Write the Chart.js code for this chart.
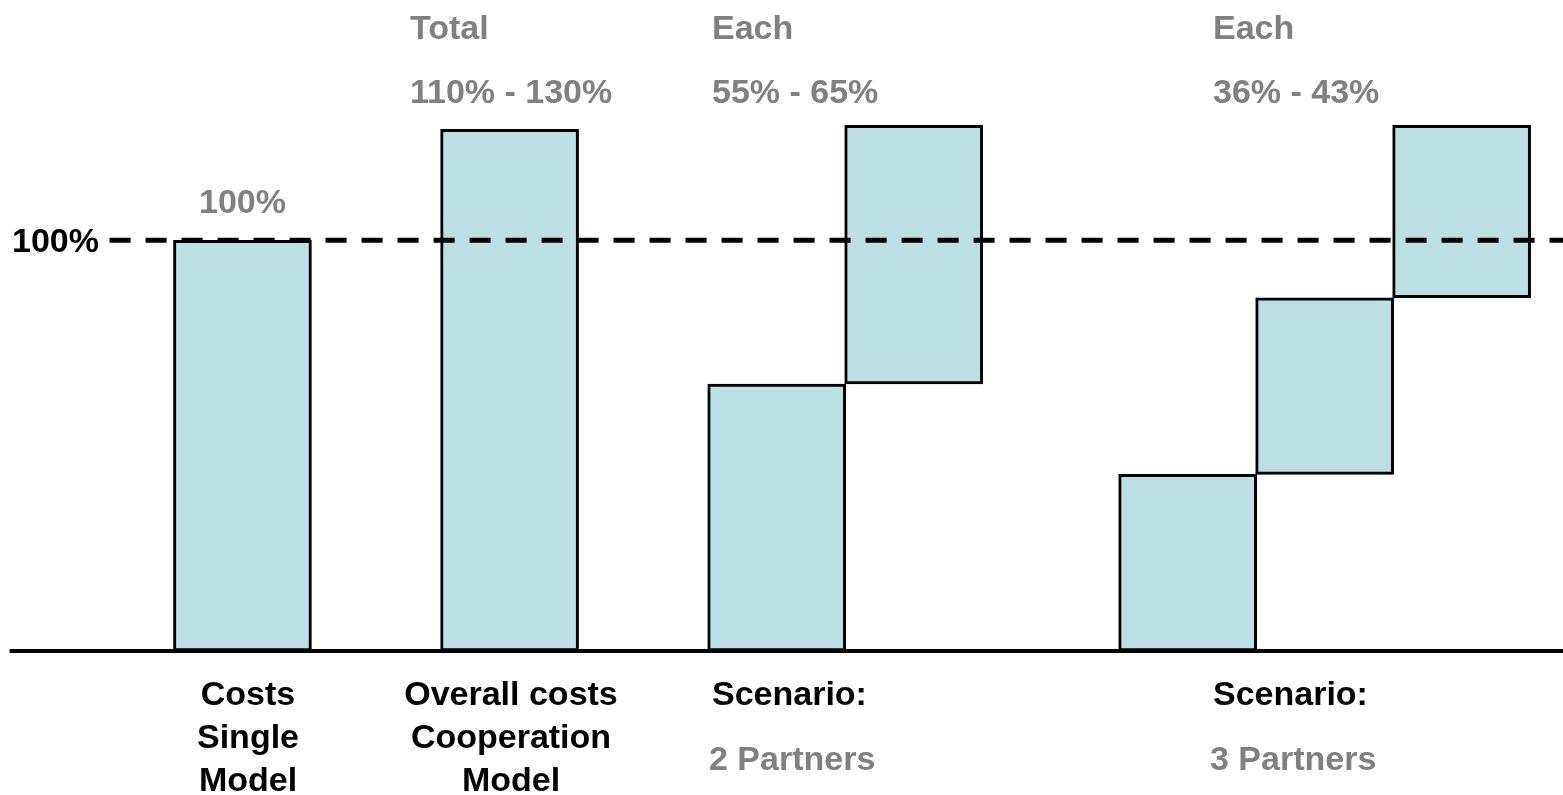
<!DOCTYPE html>
<html>
<head>
<meta charset="utf-8">
<title>Cost comparison</title>
<script src="https://cdn.jsdelivr.net/npm/chart.js@4"></script>
<style>
  body { margin: 0; background: #fff; }
  canvas { display: block; }
</style>
</head>
<body>
<canvas id="costChart" width="1563" height="795"></canvas>
<script>
// bar positions along the x axis (in bar widths) and their low/high levels in %
const barPos = [1, 2.95, 4.9, 5.9, 7.9, 8.9, 9.9];
const barLow = [0, 0, 0, 65, 0, 43, 86];
const barHigh = [100, 127, 65, 128, 43, 86, 128];

const refLevel = 100;
const refLabel = '100%';
const singleLabel = '100%';

const headers = ['Total', 'Each', 'Each'];
const ranges = ['110% - 130%', '55% - 65%', '36% - 43%'];

const modelLines = [
  ['Costs', 'Single', 'Model'],
  ['Overall costs', 'Cooperation', 'Model']
];
const scenarioTitle = 'Scenario:';
const scenarioNames = ['2 Partners', '3 Partners'];

const xMin = -0.77, xMax = 10.64;

const barData = [];
for (let i = 0; i < barPos.length; i++) {
  barData.push({ x: barPos[i], y: [barLow[i], barHigh[i]] });
}

const GRAY = '#808080';
const FONT = 'bold 34px "Liberation Sans", Arial, sans-serif';

const labelPlugin = {
  id: 'costLabels',
  afterDraw(chart) {
    const ctx = chart.ctx;
    const xs = chart.scales.x;
    const ys = chart.scales.y;
    const yRef = ys.getPixelForValue(refLevel);

    ctx.save();
    ctx.font = FONT;
    ctx.textBaseline = 'alphabetic';

    // level marker on the left
    ctx.fillStyle = '#000';
    ctx.textAlign = 'right';
    ctx.fillText(refLabel, 99, yRef + 12);

    // value above the single model bar
    ctx.fillStyle = GRAY;
    ctx.textAlign = 'center';
    ctx.fillText(singleLabel, xs.getPixelForValue(barPos[0]), yRef - 27);

    // headers and ranges at the top
    const headX = [410, 712, 1213];
    ctx.textAlign = 'left';
    for (let i = 0; i < headers.length; i++) {
      ctx.fillText(headers[i], headX[i], 39);
      ctx.fillText(ranges[i], headX[i], 103);
    }

    // category labels under the axis
    const lineY = [705, 748, 791];
    const modelX = [248, 511];
    ctx.fillStyle = '#000';
    ctx.textAlign = 'center';
    for (let g = 0; g < modelLines.length; g++) {
      for (let l = 0; l < modelLines[g].length; l++) {
        ctx.fillText(modelLines[g][l], modelX[g], lineY[l]);
      }
    }

    const scenX = [712, 1213];
    ctx.textAlign = 'left';
    for (let s = 0; s < scenarioNames.length; s++) {
      ctx.fillStyle = '#000';
      ctx.fillText(scenarioTitle, scenX[s], 705);
      ctx.fillStyle = GRAY;
      ctx.fillText(scenarioNames[s], scenX[s] - 3, 770);
    }
    ctx.restore();
  }
};

new Chart(document.getElementById('costChart'), {
  type: 'bar',
  data: {
    datasets: [
      {
        type: 'line',
        data: [{ x: 0.03, y: refLevel }, { x: xMax, y: refLevel }],
        borderColor: '#000',
        borderWidth: 5,
        borderDash: [21, 15],
        pointRadius: 0,
        clip: false
      },
      {
        type: 'line',
        data: [{ x: -0.7, y: 0 }, { x: xMax, y: 0 }],
        borderColor: '#000',
        borderWidth: 4,
        pointRadius: 0,
        clip: false
      },
      {
        data: barData,
        backgroundColor: '#BBE0E3',
        borderColor: '#000',
        borderWidth: 3,
        borderSkipped: false,
        barThickness: 138
      }
    ]
  },
  options: {
    responsive: false,
    animation: false,
    layout: { padding: { top: 2, bottom: 144, left: 0, right: 0 } },
    plugins: {
      legend: { display: false },
      tooltip: { enabled: false }
    },
    scales: {
      x: { type: 'linear', min: xMin, max: xMax, offset: false, display: false },
      y: { min: 0, max: 158, display: false }
    }
  },
  plugins: [labelPlugin]
});
</script>
</body>
</html>
